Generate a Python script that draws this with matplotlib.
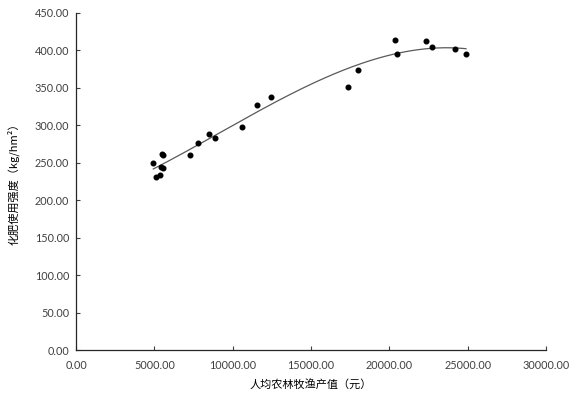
import numpy as np
import matplotlib
matplotlib.use("Agg")
import matplotlib.pyplot as plt

plt.rcParams["font.family"] = ["Lato", "Noto Sans CJK SC", "DejaVu Sans"]

# per-capita agricultural output (yuan) vs fertilizer intensity (kg/hm2)
output_yuan = [4933, 5105, 5360, 5405, 5469, 5533, 5571, 7275, 7805, 8490,
               8890, 10573, 11530, 12420, 17380, 18020, 20360, 20485,
               22360, 22700, 24190, 24890]
fert_intensity = [249.3, 230.6, 233.3, 244.7, 261.7, 243.0, 260.0, 260.7,
                  276.8, 288.0, 283.0, 298.0, 327.0, 337.8, 351.0, 374.0,
                  414.0, 395.0, 411.6, 404.0, 401.0, 395.0]

xlabel = "人均农林牧渔产值（元）"
ylabel = "化肥使用强度（kg/hm²）"

fig = plt.figure(figsize=(5.76, 3.96), dpi=100)
ax = fig.add_axes([0.132, 0.116, 0.816, 0.852])

ax.scatter(output_yuan, fert_intensity, s=11, color="black", zorder=3)

# polynomial trend line
coef = np.polyfit(output_yuan, fert_intensity, 3)
xs = np.linspace(min(output_yuan), max(output_yuan), 200)
ax.plot(xs, np.polyval(coef, xs), color="#595959", linewidth=0.9)

ax.set_xlim(0, 30000)
ax.set_ylim(0, 450)
ax.set_xticks(np.arange(0, 30001, 5000))
ax.set_yticks(np.arange(0, 451, 50))
ax.xaxis.set_major_formatter(matplotlib.ticker.StrMethodFormatter("{x:.2f}"))
ax.yaxis.set_major_formatter(matplotlib.ticker.StrMethodFormatter("{x:.2f}"))
ax.tick_params(direction="in", length=3, width=0.8, labelsize=7.8,
               colors="#404040", pad=5)
ax.tick_params(axis="x", pad=7)

for side in ["top", "right"]:
    ax.spines[side].set_visible(False)
for side in ["left", "bottom"]:
    ax.spines[side].set_color("#262626")
    ax.spines[side].set_linewidth(0.9)

ax.set_xlabel(xlabel, family=["Noto Sans CJK SC", "DejaVu Sans"],
              fontsize=8, labelpad=6)
ax.set_ylabel(ylabel, family=["Noto Sans CJK SC", "DejaVu Sans"],
              fontsize=8, labelpad=11)

fig.savefig("out.png", dpi=100)
